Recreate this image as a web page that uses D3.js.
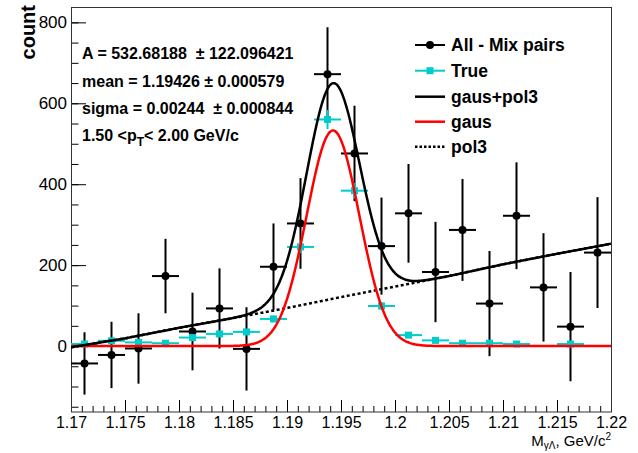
<!DOCTYPE html>
<head>
  <meta charset="utf-8">
  <script src="https://d3js.org/d3.v7.min.js"></script>
  <style>
    body { margin:0; background:#fff; }
    text { font-family: "Liberation Sans", Arial, sans-serif; fill:#000; }
  </style>
</head>
<body>
  <script>
    // bin centres (bin width 0.0025)
    var binX = [1.17125, 1.17375, 1.17625, 1.17875, 1.18125, 1.18375, 1.18625, 1.18875, 1.19125, 1.19375,
                1.19625, 1.19875, 1.20125, 1.20375, 1.20625, 1.20875, 1.21125, 1.21375, 1.21625, 1.21875];
    var binW = 0.0025;
    // All - Mix pairs
    var allMix    = [-43, -22, -6, 173, 36, 93, -7, 196, 303, 672, 476, 247, 328, 183, 287, 105, 322, 145, 48, 231];
    var allMixErr = [77, 82, 87, 92, 96, 99, 103, 107, 112, 116, 118, 120, 122, 124, 126, 130, 132, 134, 135, 137];
    // True (empty bins are null)
    var trueVal   = [5, 13, 9, 7, 21, 30, 35, 67, 245, 560, 384, 99, 27, 14, 7, 7, 5, null, 5, null];
    // fit parameters shown on the chart
    var fitA = 532.68188, fitMean = 1.19426, fitSigma = 0.00244;
    // pol3 background
    var pol3X = [1.17, 1.175, 1.18, 1.185, 1.19, 1.195, 1.2, 1.205, 1.21, 1.215, 1.22];
    var pol3Y = [-3, 19, 45, 69, 94, 121, 147, 173, 202, 228, 253];

    var xMajor = [1.17, 1.175, 1.18, 1.185, 1.19, 1.195, 1.2, 1.205, 1.21, 1.215, 1.22];
    var xLabels = ["1.17", "1.175", "1.18", "1.185", "1.19", "1.195", "1.2", "1.205", "1.21", "1.215", "1.22"];
    var yMajor = [0, 200, 400, 600, 800];

    var svg = d3.select("body").append("svg")
      .attr("width", 638).attr("height", 453);
    svg.append("rect").attr("width", 638).attr("height", 453).attr("fill", "#fff");

    var x = d3.scaleLinear().domain([1.17, 1.22]).range([71, 611]);
    var y = d3.scaleLinear().domain([-163, 838]).range([412, 7]);

    svg.append("clipPath").attr("id", "clip")
      .append("rect").attr("x", 71).attr("y", 7).attr("width", 540).attr("height", 405);

    // axes
    var xMinor = d3.range(51).map(function(i){ return 1.17 + i*0.001; });
    var yMinor = d3.range(-150, 837, 50);

    var gx = svg.append("g").attr("transform", "translate(0,412)")
      .call(d3.axisBottom(x).tickValues(xMajor).tickSize(-12).tickPadding(5)
        .tickFormat(function(d,i){ return xLabels[i]; }));
    gx.selectAll("text").attr("font-size", "16px").attr("font-family", "Liberation Sans");
    svg.append("g").attr("transform", "translate(0,412)")
      .call(d3.axisBottom(x).tickValues(xMinor).tickSize(-6).tickFormat(""));

    var gy = svg.append("g").attr("transform", "translate(71,0)")
      .call(d3.axisLeft(y).tickValues(yMajor).tickSize(-15).tickPadding(4));
    gy.selectAll("text").attr("font-size", "17px").attr("font-family", "Liberation Sans");
    svg.append("g").attr("transform", "translate(71,0)")
      .call(d3.axisLeft(y).tickValues(yMinor).tickSize(-7.5).tickFormat(""));

    svg.selectAll(".domain").remove();
    svg.selectAll(".tick line").attr("stroke", "#000").attr("stroke-width", 1);

    // frame
    svg.append("rect").attr("x", 71.5).attr("y", 7.5).attr("width", 540).attr("height", 404.5)
      .attr("fill", "none").attr("stroke", "#333").attr("stroke-width", 1);

    var plot = svg.append("g").attr("clip-path", "url(#clip)");

    // All - Mix pairs points
    var black = plot.append("g");
    binX.forEach(function(b, i){
      var v = allMix[i], e = allMixErr[i];
      black.append("line").attr("x1", x(b - binW/2)).attr("x2", x(b + binW/2))
        .attr("y1", y(v)).attr("y2", y(v)).attr("stroke", "#000").attr("stroke-width", 2);
      black.append("line").attr("x1", x(b)).attr("x2", x(b))
        .attr("y1", y(v - e)).attr("y2", y(v + e)).attr("stroke", "#000").attr("stroke-width", 2);
      black.append("circle").attr("cx", x(b)).attr("cy", y(v)).attr("r", 4).attr("fill", "#000");
    });

    // True points
    var cyan = plot.append("g");
    binX.forEach(function(b, i){
      var v = trueVal[i];
      if (v === null) return;
      var e = Math.sqrt(v);
      cyan.append("line").attr("x1", x(b - binW/2)).attr("x2", x(b + binW/2))
        .attr("y1", y(v)).attr("y2", y(v)).attr("stroke", "#00cccc").attr("stroke-width", 2);
      cyan.append("line").attr("x1", x(b)).attr("x2", x(b))
        .attr("y1", y(v - e)).attr("y2", y(v + e)).attr("stroke", "#00cccc").attr("stroke-width", 2);
      cyan.append("rect").attr("x", x(b) - 3.5).attr("y", y(v) - 3.5)
        .attr("width", 7).attr("height", 7).attr("fill", "#00cccc");
    });

    // fit curves
    var pol3 = d3.scaleLinear().domain(pol3X).range(pol3Y);
    function gaus(t) { var z = (t - fitMean) / fitSigma; return fitA * Math.exp(-0.5 * z * z); }
    var xs = d3.range(1.17, 1.22005, 0.0001);
    var line = d3.line().x(function(d){ return x(d[0]); }).y(function(d){ return y(d[1]); })
      .curve(d3.curveMonotoneX);

    plot.append("path").attr("d", line(xs.map(function(t){ return [t, pol3(t)]; })))
      .attr("fill", "none").attr("stroke", "#000").attr("stroke-width", 2.5)
      .attr("stroke-dasharray", "3,2.5");
    plot.append("path").attr("d", line(xs.map(function(t){ return [t, gaus(t)]; })))
      .attr("fill", "none").attr("stroke", "#ff0000").attr("stroke-width", 2.5);
    plot.append("path").attr("d", line(xs.map(function(t){ return [t, gaus(t) + pol3(t)]; })))
      .attr("fill", "none").attr("stroke", "#000").attr("stroke-width", 2.5);

    // fit parameter text
    var info = svg.append("g").attr("font-size", "16px").attr("font-weight", "bold");
    info.append("text").attr("x", 82).attr("y", 59).text("A = 532.68188 \u00a0\u00b1 122.096421");
    info.append("text").attr("x", 82).attr("y", 87).text("mean = 1.19426 \u00b1 0.000579");
    info.append("text").attr("x", 82).attr("y", 114).text("sigma = 0.00244 \u00a0\u00b1 0.000844");
    var pt = info.append("text").attr("x", 82).attr("y", 141);
    pt.append("tspan").text("1.50 <p");
    pt.append("tspan").attr("dy", 5).attr("font-size", "12px").text("T");
    pt.append("tspan").attr("dy", -5).text("< 2.00 GeV/c");

    // legend
    var legend = svg.append("g").attr("font-size", "17.5px").attr("font-weight", "bold");
    var legY = [45, 70.7, 96.7, 121.7, 146.7];
    var legText = ["All - Mix pairs", "True", "gaus+pol3", "gaus", "pol3"];
    legText.forEach(function(t, i){
      var ly = legY[i];
      var col = i === 1 ? "#00cccc" : (i === 3 ? "#ff0000" : "#000");
      var ln = legend.append("line").attr("x1", 415).attr("x2", 445).attr("y1", ly).attr("y2", ly)
        .attr("stroke", col).attr("stroke-width", i >= 2 ? 2.5 : 2);
      if (i === 4) ln.attr("stroke-dasharray", "2.5,2");
      if (i === 0) legend.append("circle").attr("cx", 430).attr("cy", ly).attr("r", 4).attr("fill", "#000");
      if (i === 1) legend.append("rect").attr("x", 426.5).attr("y", ly - 3.5).attr("width", 7).attr("height", 7).attr("fill", "#00cccc");
      legend.append("text").attr("x", 451).attr("y", ly + 6).text(t);
    });

    // axis titles
    svg.append("text").attr("transform", "translate(35,5) rotate(-90)")
      .attr("text-anchor", "end").attr("font-size", "20px").attr("font-weight", "bold").text("count");
    var xt = svg.append("text").attr("x", 611).attr("y", 446).attr("text-anchor", "end").attr("font-size", "15px");
    xt.append("tspan").text("M");
    xt.append("tspan").attr("dy", 3).attr("font-size", "10px").text("\u03b3\u039b");
    xt.append("tspan").attr("dy", -3).text(", GeV/c");
    xt.append("tspan").attr("dy", -6).attr("font-size", "10px").text("2");
  </script>
</body>
